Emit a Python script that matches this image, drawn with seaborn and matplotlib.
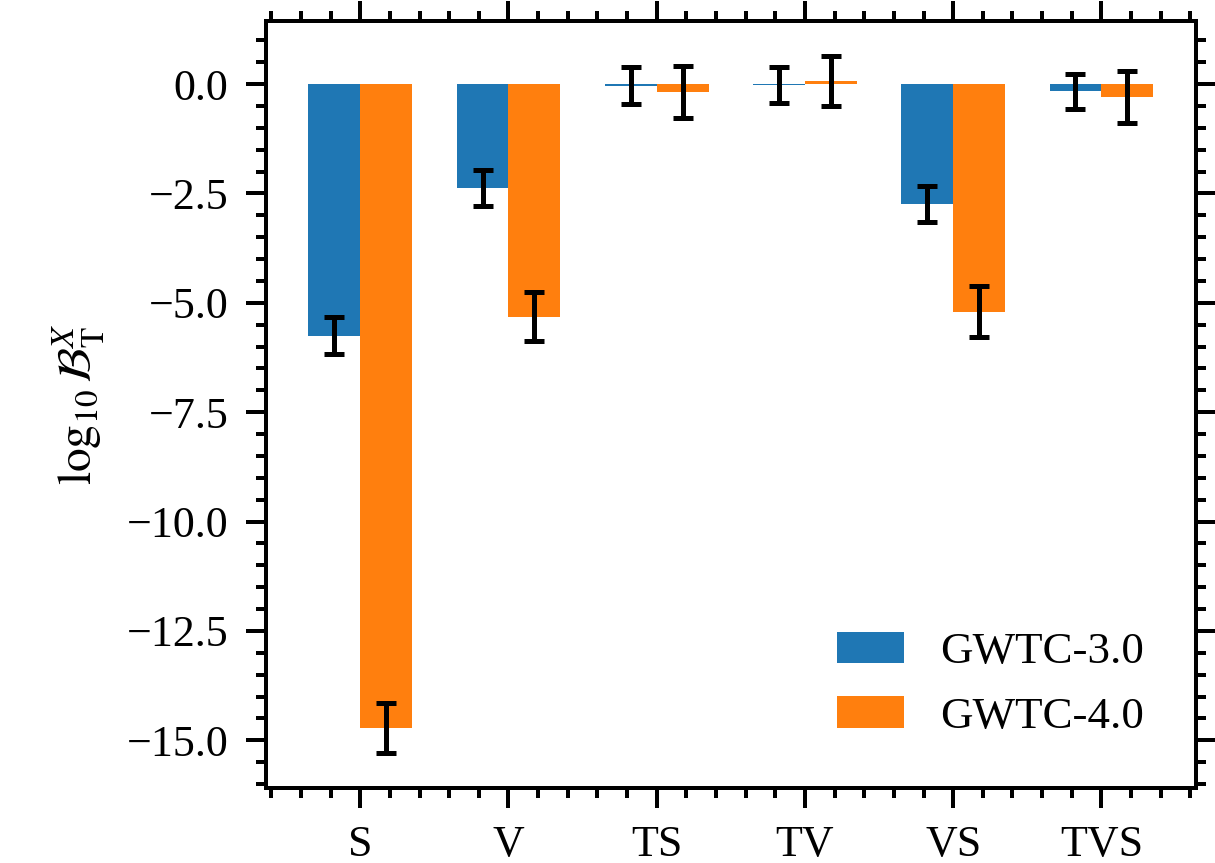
import matplotlib
matplotlib.use("Agg")
import matplotlib.pyplot as plt
from matplotlib.ticker import AutoMinorLocator
from matplotlib.container import BarContainer
import seaborn as sns
import pandas as pd
import numpy as np

categories = ["S", "V", "TS", "TV", "VS", "TVS"]
series = ["GWTC-3.0", "GWTC-4.0"]
gwtc3_values = [-5.75, -2.38, -0.04, -0.02, -2.74, -0.17]
gwtc3_errors = [0.43, 0.415, 0.42, 0.41, 0.41, 0.395]
gwtc4_values = [-14.72, -5.32, -0.18, 0.07, -5.20, -0.29]
gwtc4_errors = [0.57, 0.56, 0.585, 0.575, 0.585, 0.595]
colors = ["#1f77b4", "#ff7f0e"]

df = pd.DataFrame({
    "model": categories * 2,
    "catalog": [series[0]] * len(categories) + [series[1]] * len(categories),
    "value": gwtc3_values + gwtc4_values,
})
errors = [gwtc3_errors, gwtc4_errors]
values = [gwtc3_values, gwtc4_values]

sns.set_style("white")
plt.rcParams["font.family"] = ["Liberation Serif", "DejaVu Serif"]
plt.rcParams["mathtext.fontset"] = "stix"
plt.rcParams["axes.linewidth"] = 0.8
plt.rcParams["axes.unicode_minus"] = True
for k in ["text.color", "axes.labelcolor", "xtick.color", "ytick.color", "axes.edgecolor"]:
    plt.rcParams[k] = "black"

fig = plt.figure(figsize=(3.375, 863 / 360), dpi=360)
ax = fig.add_axes([0.219, 0.087, 0.984 - 0.219, 0.9757 - 0.087])

sns.barplot(data=df, x="model", y="value", hue="catalog", order=categories,
            hue_order=series, palette=colors, saturation=1, width=0.7,
            errorbar=None, linewidth=0, ax=ax)

bar_containers = [c for c in ax.containers if isinstance(c, BarContainer)]
for i, cont in enumerate(bar_containers):
    xs = [p.get_x() + p.get_width() / 2 for p in cont.patches]
    ax.errorbar(xs, values[i], yerr=errors[i], fmt="none", ecolor="black",
                elinewidth=1.0, capsize=2.0, capthick=1.0, zorder=5)

ax.autoscale(enable=True, axis="x")
ax.margins(x=0.05, y=0.05)
ax.autoscale_view()

ax.set_xlabel("")
ax.set_ylabel(r"$\log_{10}\mathcal{B}^{X}_{\mathrm{T}}$", fontsize=9.5, labelpad=4)
ax.set_yticks([0.0, -2.5, -5.0, -7.5, -10.0, -12.5, -15.0])
ax.xaxis.set_minor_locator(AutoMinorLocator(5))
ax.yaxis.set_minor_locator(AutoMinorLocator(5))
ax.tick_params(which="both", direction="out", top=True, right=True,
               bottom=True, left=True, width=0.8, labelsize=8.8, colors="black")
ax.tick_params(which="major", length=4)
ax.tick_params(which="minor", length=2)
for s in ax.spines.values():
    s.set_visible(True)
    s.set_color("black")
    s.set_linewidth(0.8)

sns.move_legend(ax, "lower right", frameon=False, title=None, fontsize=9,
                handlelength=1.5, handleheight=0.7, handletextpad=0.8,
                labelspacing=0.53, bbox_to_anchor=(0.988, 0.014))

fig.savefig("out.png", dpi=360)
